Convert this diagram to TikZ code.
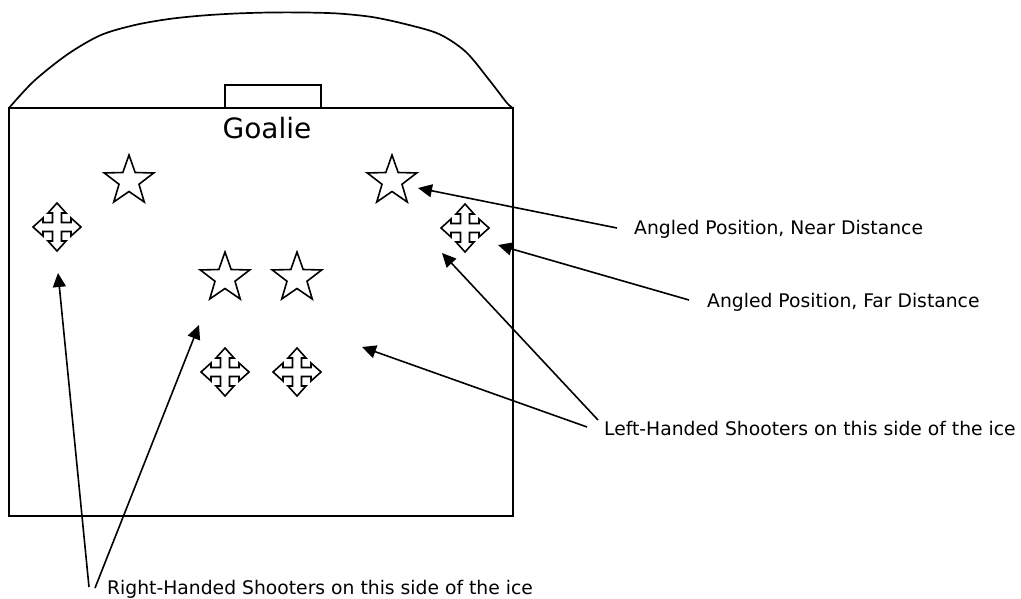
\documentclass[tikz,border=0pt]{standalone}
\usepackage{fontspec}
\setmainfont{DejaVu Sans}
\usetikzlibrary{arrows.meta}
\tikzset{
  ln/.style={line width=1.7pt},
  figline/.style={line width=1.6pt, line join=miter},
  lbl/.style={anchor=base west, inner sep=0pt, font=\fontsize{18.75}{20}\selectfont},
  ptr/.style={line width=1.6pt, -{Triangle[length=14pt,width=13pt]}},
  starpic/.pic={\draw[figline] (270:26) -- (306:10.5) -- (342:26) -- (18:10.5) -- (54:26) -- (90:10.5) -- (126:26) -- (162:10.5) -- (198:26) -- (234:10.5) -- cycle;},
  movepic/.pic={\draw[figline] (0,-24) -- (9,-14) -- (4.5,-14) -- (4.5,-4.5) -- (14,-4.5) -- (14,-9) -- (24,0) -- (14,9) -- (14,4.5) -- (4.5,4.5) -- (4.5,14) -- (9,14) -- (0,24) -- (-9,14) -- (-4.5,14) -- (-4.5,4.5) -- (-14,4.5) -- (-14,9) -- (-24,0) -- (-14,-9) -- (-14,-4.5) -- (-4.5,-4.5) -- (-4.5,-14) -- (-9,-14) -- cycle;}
}
\begin{document}
\begin{tikzpicture}[x=1pt,y=-1pt]
\useasboundingbox (0,0) rectangle (1021,599);
% rink
\draw[ln] (9,108) rectangle (513,516);
\draw[ln] plot[smooth, tension=0.5] coordinates {(9,108) (34,81) (68,54) (101,35) (135,25) (169,19) (203,15.5) (236,13.5) (270,12.5) (304,12.5) (338,13.5) (372,17) (405,24) (439,34) (466,52) (490,81) (507,103) (513,108)};
\draw[ln] (225,85) rectangle (321,108);
\node[anchor=base, inner sep=0pt, font=\fontsize{28}{30}\selectfont] (goalie) at (267,139) {Goalie};
% positions
\coordinate (s1) at (129,181);
\coordinate (s2) at (392,181);
\coordinate (s3) at (225,278);
\coordinate (s4) at (297,278);
\coordinate (m1) at (57,227);
\coordinate (m2) at (465,228);
\coordinate (m3) at (225,372);
\coordinate (m4) at (297,372);
\foreach \p in {s1,s2,s3,s4} \pic at (\p) {starpic};
\foreach \p in {m1,m2,m3,m4} \pic at (\p) {movepic};
% labels
\node[lbl] (near) at (634,235) {Angled Position, Near Distance};
\node[lbl] (far) at (707,307) {Angled Position, Far Distance};
\node[lbl] (lefth) at (604,435) {Left-Handed Shooters on this side of the ice};
\node[lbl] (righth) at (107,594) {Right-Handed Shooters on this side of the ice};
% arrow tips and tails
\coordinate (tnear) at (418,188);
\coordinate (tfar) at (498,245);
\coordinate (tla) at (442,253);
\coordinate (tlb) at (362,347);
\coordinate (tra) at (58,273);
\coordinate (trb) at (199,325);
\coordinate (cnear) at (617,228);
\coordinate (cfar) at (689,300);
\coordinate (cla) at (598,420);
\coordinate (clb) at (587,427);
\coordinate (cra) at (89,587);
\coordinate (crb) at (95,588);
\draw[ptr] (cnear) -- (tnear);
\draw[ptr] (cfar) -- (tfar);
\draw[ptr] (cla) -- (tla);
\draw[ptr] (clb) -- (tlb);
\draw[ptr] (cra) -- (tra);
\draw[ptr] (crb) -- (trb);
\end{tikzpicture}
\end{document}
